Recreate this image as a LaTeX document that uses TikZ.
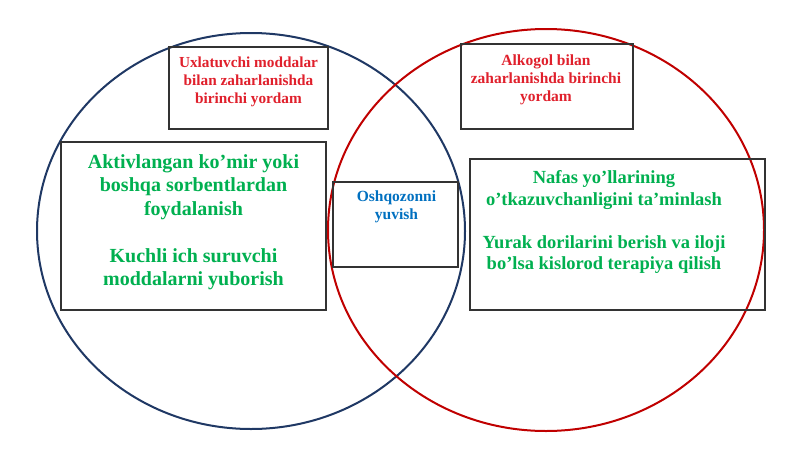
\documentclass[tikz,border=0pt]{standalone}
\usepackage{fontspec}
\setmainfont{Liberation Serif}
\usetikzlibrary{shapes.geometric}
\definecolor{navyline}{HTML}{1F3864}
\definecolor{redline}{HTML}{C00000}
\definecolor{redtext}{HTML}{E0202C}
\definecolor{greentext}{HTML}{00B050}
\definecolor{bluetext}{HTML}{0070C0}
\begin{document}
\begin{tikzpicture}[x=1pt,y=-1pt,
  ring/.style={ellipse,draw,line width=2pt,inner sep=0pt,outer sep=0pt},
  box/.style={rectangle,draw=black!80,line width=1.2pt,inner sep=0pt,outer sep=0pt},
  label/.style={anchor=north,align=center,inner sep=0pt}]
\useasboundingbox (0,0) rectangle (800,450);
\fill[white] (0,0) rectangle (800,450);
% circles
\node (L) [ring,draw=navyline,minimum width=428pt,minimum height=396pt] at (251,231) {};
\node (R) [ring,draw=redline,minimum width=436pt,minimum height=402pt] at (546,230) {};
% boxes
\node (b1) [box,minimum width=159pt,minimum height=82pt] at (248.5,88) {};
\node (b2) [box,minimum width=172pt,minimum height=85pt] at (547,86.5) {};
\node (b3) [box,minimum width=265pt,minimum height=168pt] at (193.5,226) {};
\node (b4) [box,minimum width=125pt,minimum height=85pt] at (395.5,224.5) {};
\node (b5) [box,minimum width=295pt,minimum height=151pt] at (617.5,234.5) {};
% texts
\node (t1) [label,text=redtext,font={\bfseries\fontsize{15.3}{18.3}\selectfont}] at (248.5,56.5)
  {Uxlatuvchi moddalar\\bilan zaharlanishda\\birinchi yordam};
\node (t2) [label,text=redtext,font={\bfseries\fontsize{15.5}{18}\selectfont}] at (546,54.5)
  {Alkogol bilan\\zaharlanishda birinchi\\yordam};
\node (t3) [label,text=greentext,font={\bfseries\fontsize{20}{23.5}\selectfont}] at (193.5,154)
  {Aktivlangan ko’mir yoki\\boshqa sorbentlardan\\foydalanish\\[23.5pt]Kuchli ich suruvchi\\moddalarni yuborish};
\node (t4) [label,text=bluetext,font={\bfseries\fontsize{15.5}{18}\selectfont}] at (396.5,190.5)
  {Oshqozonni\\yuvish};
\node (t5) [label,text=greentext,font={\bfseries\fontsize{18.5}{21.5}\selectfont}] at (604,170.5)
  {Nafas yo’llarining\\o’tkazuvchanligini ta’minlash\\[21.5pt]Yurak dorilarini berish va iloji\\bo’lsa kislorod terapiya qilish};
\end{tikzpicture}
\end{document}
